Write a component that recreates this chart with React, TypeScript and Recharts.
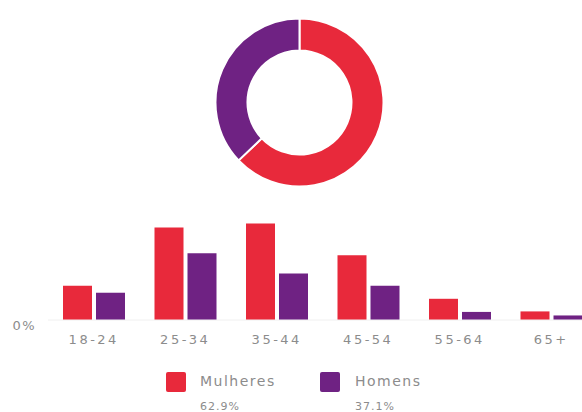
import React from 'react';
import { PieChart, Pie, Cell, BarChart, Bar, XAxis, YAxis } from 'recharts';

const categories = ['18-24', '25-34', '35-44', '45-54', '55-64', '65+'];
const mulheres = [6.8, 18.3, 19.1, 12.8, 4.2, 1.7];
const homens = [5.4, 13.2, 9.2, 6.8, 1.6, 0.9];
const genderNames = ['Mulheres', 'Homens'];
const genderShares = [62.9, 37.1];
const yTicks = [0];

const RED = '#e8293b';
const PURPLE = '#6f2283';
const colors = [RED, PURPLE];
const TEXT = '#8c8c8c';
const FONT = '"DejaVu Sans", sans-serif';

const barData = categories.map((c, i) => ({ cat: c, Mulheres: mulheres[i], Homens: homens[i] }));
const pieData = genderNames.map((n, i) => ({ name: n, value: genderShares[i] }));

export default function App() {
  return (
    <div style={{ position: 'absolute', left: 0, top: 0, width: 582, height: 412, overflow: 'hidden', background: '#fff' }}>
      <div style={{ position: 'absolute', left: 0, top: 0 }}>
        <PieChart width={582} height={200}>
          <Pie
            data={pieData}
            dataKey="value"
            cx={294.5}
            cy={97.5}
            innerRadius={52}
            outerRadius={84}
            startAngle={90}
            endAngle={-270}
            stroke="#fff"
            strokeWidth={2}
            isAnimationActive={false}
          >
            {pieData.map((d, i) => (
              <Cell key={d.name} fill={colors[i]} />
            ))}
          </Pie>
        </PieChart>
      </div>
      <div style={{ position: 'absolute', left: 0, top: 200 }}>
        <BarChart width={600} height={150} data={barData} margin={{ top: 19, right: 3, left: 0, bottom: 0 }} barSize={29} barGap={4}>
          <XAxis
            dataKey="cat"
            height={30}
            tickLine={false}
            axisLine={{ stroke: '#f0f0f0' }}
            tickSize={0}
            tickMargin={15}
            tick={{ fill: TEXT, fontSize: 13, fontFamily: FONT, letterSpacing: 2.5 }}
            interval={0}
          />
          <YAxis
            width={48}
            domain={[0, 20]}
            ticks={yTicks}
            tickFormatter={(v) => `${v}%`}
            axisLine={false}
            tickLine={false}
            tickSize={0}
            tickMargin={12}
            tick={{ fill: TEXT, fontSize: 13, fontFamily: FONT, letterSpacing: 1.5, dy: 5 }}
          />
          <Bar dataKey="Mulheres" fill={RED} isAnimationActive={false} />
          <Bar dataKey="Homens" fill={PURPLE} isAnimationActive={false} />
        </BarChart>
      </div>
      {genderNames.map((n, i) => (
        <div key={n} style={{ position: 'absolute', left: 166 + i * 154, top: 372 }}>
          <div style={{ position: 'absolute', left: 0, top: 0, width: 20, height: 20, background: colors[i], borderRadius: 2 }} />
          <div style={{ position: 'absolute', left: 34 + i * 1, top: 0, fontFamily: FONT, fontSize: 14, letterSpacing: 1.5, color: TEXT, whiteSpace: 'nowrap', lineHeight: '18px' }}>
            {n}
          </div>
          <div style={{ position: 'absolute', left: 34 + i * 1, top: 28, fontFamily: FONT, fontSize: 11, letterSpacing: 1, color: TEXT, whiteSpace: 'nowrap', lineHeight: '13px' }}>
            {genderShares[i].toFixed(1)}%
          </div>
        </div>
      ))}
    </div>
  );
}
